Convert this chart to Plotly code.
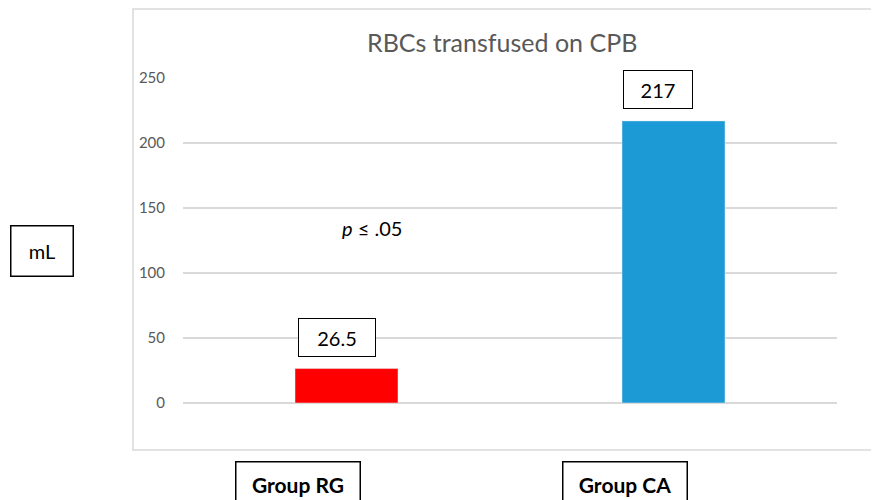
import plotly.graph_objects as go

categories = ["Group RG", "Group CA"]
values = [26.5, 217]
value_labels = ["26.5", "217"]
bar_colors = ["#FF0000", "#1C9AD6"]
y_ticks = [0, 50, 100, 150, 200, 250]
title_text = "RBCs transfused on CPB"
unit_label = "mL"
p_text = "<i>p</i> ≤ .05"

# page has an 8px body margin; figure coordinates = page pixels - 8
OFF = 8
W, H = 879 - OFF, 500 - OFF
L, R, T, B = 183 - OFF, 42, 78 - OFF, H - (403 - OFF)
pw, ph = W - L - R, H - T - B

def px_x(px):
    return (px - OFF - L) / pw

def px_y(py):
    return (H - B - (py - OFF)) / ph

FONT = "Lato"

fig = go.Figure(go.Bar(x=categories, y=values, marker_color=bar_colors, width=0.315))

ann = []
for c, v, t, w, xs in zip(categories, values, value_labels, [60, 52], [-49, -51]):
    ann.append(dict(x=c, y=v, xref="x", yref="y", text=t, showarrow=False,
                    xanchor="left", yanchor="bottom", xshift=xs, yshift=12,
                    font=dict(size=20, color="black", family=FONT),
                    bordercolor="black", borderwidth=1, borderpad=8, width=w, height=21,
                    bgcolor="white"))
for c in categories:
    ann.append(dict(x=c, y=px_y(484), xref="x", yref="paper", text="<b>" + c + "</b>",
                    showarrow=False, xanchor="center", yanchor="middle", xshift=-49,
                    font=dict(size=21, color="black", family=FONT),
                    bordercolor="black", borderwidth=1.5, borderpad=0,
                    width=123, height=44))
ann.append(dict(x=px_x(372), y=px_y(228), xref="paper", yref="paper", text=p_text,
                showarrow=False, xanchor="center", yanchor="middle",
                font=dict(size=20, color="black", family=FONT)))
ann.append(dict(x=px_x(41.5), y=px_y(250.5), xref="paper", yref="paper", text=unit_label,
                showarrow=False, xanchor="center", yanchor="middle",
                font=dict(size=20, color="black", family=FONT),
                bordercolor="black", borderwidth=1.5, borderpad=8, width=45, height=33))
ann.append(dict(x=px_x(501.5), y=px_y(42), xref="paper", yref="paper", text=title_text,
                showarrow=False, xanchor="center", yanchor="middle",
                font=dict(size=25, color="#595959", family=FONT)))

fig.update_layout(
    width=W, height=H, margin=dict(l=L, r=R, t=T, b=B),
    paper_bgcolor="white", plot_bgcolor="white", showlegend=False,
    annotations=ann,
    shapes=[dict(type="rect", xref="paper", yref="paper",
                 x0=px_x(133), x1=px_x(873), y0=px_y(450), y1=px_y(9),
                 line=dict(color="#d9d9d9", width=1.5), layer="below")],
    xaxis=dict(showticklabels=False, showgrid=False, zeroline=False, showline=False, ticks=""),
    yaxis=dict(range=[0, 250], tickvals=y_ticks, showgrid=True, gridcolor="#d9d9d9", gridwidth=1.5,
               zeroline=True, zerolinecolor="#d9d9d9", zerolinewidth=1.5, showline=False,
               tickfont=dict(size=15, color="#595959", family=FONT), ticklabelstandoff=17),
)

fig.write_html("out.html")
